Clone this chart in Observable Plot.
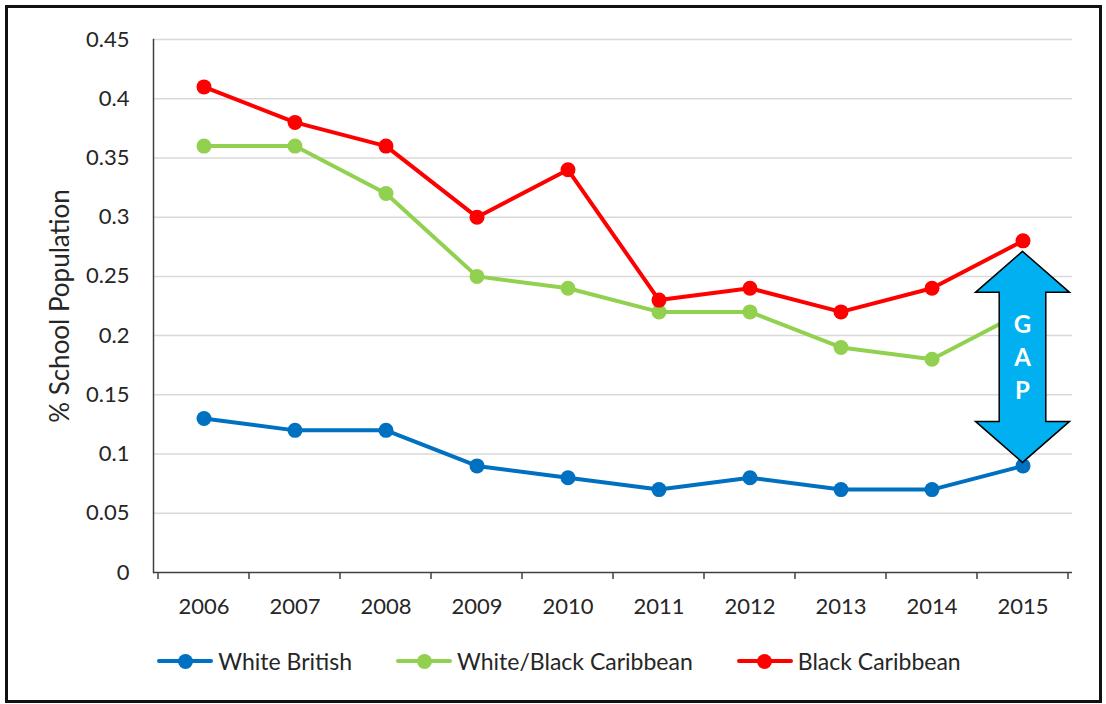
<!DOCTYPE html>
<html>
<head>
<meta charset="utf-8">
<script src="https://cdn.jsdelivr.net/npm/d3@7"></script>
<script src="https://cdn.jsdelivr.net/npm/@observablehq/plot@0.6"></script>
<style>
  html, body { margin: 0; padding: 0; background: #fff; }
  body { width: 1106px; height: 704px; position: relative; overflow: hidden; font-family: Lato, "Open Sans", sans-serif; }
  #frame { position: absolute; left: 5px; top: 5px; width: 1097px; height: 698px; box-sizing: border-box; border: 3px solid #111; pointer-events: none; }
  #chart { position: absolute; left: 0; top: 0; }
  #legend { position: absolute; left: 0; top: 647px; width: 1106px; display: flex; justify-content: center; gap: 44px; font-size: 23px; color: #262626; padding-left: 12px; box-sizing: border-box; }
  .item { display: flex; align-items: center; gap: 5px; }
  .sym { position: relative; width: 56px; height: 15px; }
  .sym .ln { position: absolute; left: 0; right: 0; top: 5.5px; height: 4px; border-radius: 2px; }
  .sym .dt { position: absolute; left: 20.5px; top: 0; width: 15px; height: 15px; border-radius: 50%; }
</style>
</head>
<body>
<div id="chart"></div>
<div id="legend"></div>
<div id="frame"></div>
<script>
// Share of school population by ethnic group, 2006–2015
const years = [2006, 2007, 2008, 2009, 2010, 2011, 2012, 2013, 2014, 2015];
const whiteBritish = [0.13, 0.12, 0.12, 0.09, 0.08, 0.07, 0.08, 0.07, 0.07, 0.09];
const whiteBlackCaribbean = [0.36, 0.36, 0.32, 0.25, 0.24, 0.22, 0.22, 0.19, 0.18, 0.22];
const blackCaribbean = [0.41, 0.38, 0.36, 0.30, 0.34, 0.23, 0.24, 0.22, 0.24, 0.28];
const seriesNames = ["White British", "White/Black Caribbean", "Black Caribbean"];
const seriesColors = ["#0070C0", "#92D050", "#FF0000"];
const yTicks = [0, 0.05, 0.1, 0.15, 0.2, 0.25, 0.3, 0.35, 0.4, 0.45];
const gapLabel = ["G", "A", "P"];

const seriesValues = [whiteBritish, whiteBlackCaribbean, blackCaribbean];
const rows = seriesNames.flatMap((name, s) =>
  years.map((year, i) => ({series: name, year, value: seriesValues[s][i]}))
);

// category tick marks at the band edges of the x axis
function edgeTicks(index, scales, values, dimensions) {
  const g = d3.create("svg:g");
  const bw = scales.x.bandwidth();
  const edges = years.map(y => scales.x(y)).concat([scales.x(years[years.length - 1]) + bw]);
  const y0 = dimensions.height - dimensions.marginBottom;
  g.selectAll("line").data(edges).join("line")
    .attr("x1", d => d).attr("x2", d => d)
    .attr("y1", y0).attr("y2", y0 + 7)
    .attr("stroke", "#404040").attr("stroke-width", 1.5);
  return g.node();
}

// double-headed arrow marking the gap in the final year
function gapArrow(year, lo, hi) {
  return (index, scales, values, dimensions) => {
    const cx = scales.x(year) + scales.x.bandwidth() / 2;
    const top = scales.y(hi) + 11;
    const bot = scales.y(lo) - 3;
    const shaft = 23.3, head = 47, headLen = 41;
    const pts = [
      [cx, top], [cx + head, top + headLen], [cx + shaft, top + headLen],
      [cx + shaft, bot - headLen], [cx + head, bot - headLen], [cx, bot],
      [cx - head, bot - headLen], [cx - shaft, bot - headLen], [cx - shaft, top + headLen],
      [cx - head, top + headLen]
    ];
    const g = d3.create("svg:g");
    g.append("polygon")
      .attr("points", pts.map(p => p.join(",")).join(" "))
      .attr("fill", "#00B0F0").attr("stroke", "#000").attr("stroke-width", 1.5)
      .attr("stroke-linejoin", "miter");
    const mid = (top + bot) / 2;
    g.selectAll("text").data(gapLabel).join("text")
      .attr("x", cx).attr("y", (d, i) => mid + (i - 1) * 33)
      .attr("text-anchor", "middle").attr("dominant-baseline", "central")
      .attr("fill", "#fff").attr("font-weight", "bold").attr("font-size", 24)
      .attr("font-family", "Lato, sans-serif")
      .text(d => d);
    return g.node();
  };
}

const last = years.length - 1;
const chart = Plot.plot({
  width: 1106,
  height: 630,
  marginLeft: 153,
  marginRight: 34,
  marginTop: 39,
  marginBottom: 58,
  style: {fontFamily: "Lato, sans-serif", fontSize: "22px", color: "#262626", background: "transparent"},
  x: {type: "band", domain: years, padding: 0},
  y: {domain: [0, 0.45]},
  color: {domain: seriesNames, range: seriesColors},
  marks: [
    Plot.gridY(yTicks.filter(d => d > 0), {stroke: "#d9d9d9", strokeOpacity: 1, strokeWidth: 1.5}),
    Plot.axisY(yTicks, {tickSize: 0, tickPadding: 24, tickFormat: d => String(+d.toFixed(2)), label: null, fontSize: 22}),
    Plot.axisX({tickSize: 0, tickPadding: 26, tickFormat: d => String(d), label: null, fontSize: 22}),
    Plot.text(["% School Population"], {frameAnchor: "left", textAnchor: "middle", rotate: -90, dx: -93, fontSize: 26, fill: "#262626"}),
    Plot.frame({anchor: "left", stroke: "#404040", strokeWidth: 1.5}),
    Plot.ruleY([0], {stroke: "#404040", strokeWidth: 1.5}),
    edgeTicks,
    Plot.line(rows, {x: "year", y: "value", z: "series", stroke: "series", strokeWidth: 4, strokeLinejoin: "round", strokeLinecap: "round"}),
    Plot.dot(rows, {x: "year", y: "value", fill: "series", r: 7.5}),
    gapArrow(years[last], whiteBritish[last], blackCaribbean[last])
  ]
});
document.getElementById("chart").append(chart);

// legend below the plot
const legend = d3.select("#legend");
seriesNames.forEach((name, i) => {
  const item = legend.append("div").attr("class", "item");
  const sym = item.append("div").attr("class", "sym");
  sym.append("div").attr("class", "ln").style("background", seriesColors[i]);
  sym.append("div").attr("class", "dt").style("background", seriesColors[i]);
  item.append("span").text(name);
});
</script>
</body>
</html>
